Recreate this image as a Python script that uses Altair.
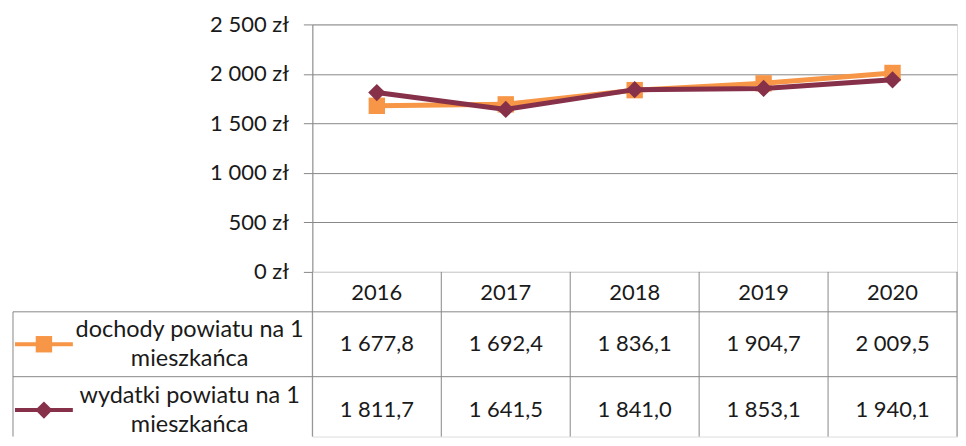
import altair as alt
import pandas as pd

# ---- data ----
years = ["2016", "2017", "2018", "2019", "2020"]
series = ["dochody powiatu na 1 mieszkańca", "wydatki powiatu na 1 mieszkańca"]
dochody = [1677.8, 1692.4, 1836.1, 1904.7, 2009.5]
wydatki = [1811.7, 1641.5, 1841.0, 1853.1, 1940.1]
y_ticks = [0, 500, 1000, 1500, 2000, 2500]

colors = ["#F79646", "#86304A"]
shapes = ["square", "diamond"]
sizes = [270, 300]

rows = []
for s, vals in zip(series, [dochody, wydatki]):
    for yr, v in zip(years, vals):
        txt = f"{v:,.1f}".replace(",", " ").replace(".", ",")
        rows.append({"rok": yr, "seria": s, "wartosc": v, "tekst": txt})
df = pd.DataFrame(rows)
df_years = pd.DataFrame({"rok": years})
df_series = pd.DataFrame({"seria": series,
                          "etykieta": [s.replace(" na 1 ", " na 1\n") for s in series]})
one = pd.DataFrame({"k": [0]})

FONT = "Lato"
FS = 22
GRID = "#888888"
TXT = "#1a1a1a"
W, H = 646, 248
TH = 165
HDR = 40
R1 = 105
LH = 29

color = alt.Color("seria:N", scale=alt.Scale(domain=series, range=colors), legend=None)
shape = alt.Shape("seria:N", scale=alt.Scale(domain=series, range=shapes), legend=None)
size = alt.Size("seria:N", scale=alt.Scale(domain=series, range=sizes), legend=None)

# ---- top: line chart ----
x_top = alt.X("rok:N", scale=alt.Scale(type="point", padding=0.5, domain=years), axis=None)
y_top = alt.Y(
    "wartosc:Q",
    scale=alt.Scale(domain=[0, 2500], nice=False),
    axis=alt.Axis(
        values=y_ticks, title=None,
        labelExpr="replace(format(datum.value, ','), regexp(',', 'g'), ' ') + ' zł'",
        grid=True, gridColor=GRID, gridOpacity=1, gridWidth=1,
        domain=True, domainColor=GRID, domainWidth=1,
        ticks=True, tickColor=GRID, tickSize=9, tickWidth=1,
        labelFont=FONT, labelFontSize=FS, labelColor=TXT, labelPadding=15,
    ),
)

layers = []
for s, w in zip(series, [5, 5]):
    base = alt.Chart(df).transform_filter(alt.datum.seria == s)
    layers.append(base.mark_line(strokeWidth=w).encode(x=x_top, y=y_top, color=color))
    layers.append(base.mark_point(filled=True, opacity=1).encode(
        x=x_top, y=y_top, color=color, shape=shape, size=size))
top = alt.layer(*layers).properties(width=W, height=H)

# ---- bottom: data table ----
band = alt.Scale(type="band", domain=years, paddingInner=0, paddingOuter=0)
x_b = alt.X("rok:N", scale=band, axis=None)
y_row = alt.Y("seria:N", scale=alt.Scale(type="point", domain=series, range=[72.5, 138.5], padding=0), axis=None)

header = alt.Chart(df_years).mark_text(font=FONT, fontSize=FS, color=TXT).encode(
    x=x_b, y=alt.value(HDR / 2 + 1), text="rok:N")
values = alt.Chart(df).mark_text(font=FONT, fontSize=FS, color=TXT).encode(
    x=x_b, y=y_row, text="tekst:N")
vlines = alt.Chart(df_years).mark_rule(color=GRID, strokeWidth=1).encode(
    x=alt.X("rok:N", scale=band, axis=None, bandPosition=0),
    y=alt.value(0), y2=alt.value(TH))
right_line = alt.Chart(one).mark_rule(color=GRID, strokeWidth=1).encode(
    x=alt.value(W), y=alt.value(0), y2=alt.value(TH))
h1 = alt.Chart(one).mark_rule(color=GRID, strokeWidth=1).encode(
    x=alt.value(-300), x2=alt.value(W), y=alt.value(HDR))
h2 = alt.Chart(one).mark_rule(color=GRID, strokeWidth=1).encode(
    x=alt.value(-300), x2=alt.value(W), y=alt.value(R1))
left_line = alt.Chart(one).mark_rule(color=GRID, strokeWidth=1).encode(
    x=alt.value(-300), y=alt.value(HDR), y2=alt.value(TH))

leg_line = alt.Chart(df_series).mark_rule(strokeWidth=4).encode(
    x=alt.value(-298), x2=alt.value(-240), y=y_row, color=color)
leg_pt = alt.Chart(df_series).mark_point(filled=True, opacity=1).encode(
    x=alt.value(-269), y=y_row, color=color, shape=shape, size=size)
leg_txt = alt.Chart(df_series).mark_text(
    font=FONT, fontSize=23.5, color=TXT, align="center", baseline="middle",
    lineBreak="\n", lineHeight=LH, dy=-LH / 2).encode(
    x=alt.value(-123), y=y_row, text="etykieta:N")

bottom = alt.layer(vlines, right_line, h1, h2, left_line, header, values,
                   leg_line, leg_pt, leg_txt).properties(width=W, height=TH)

chart = alt.vconcat(top, bottom, spacing=0, bounds="flush").resolve_scale(
    x="independent", y="independent"
).properties(
    padding={"left": 4, "top": 4, "right": 0, "bottom": 0}
).configure_view(stroke=None).configure(background="white")

chart.save("out.html", embed_options={"renderer": "svg", "actions": False})
